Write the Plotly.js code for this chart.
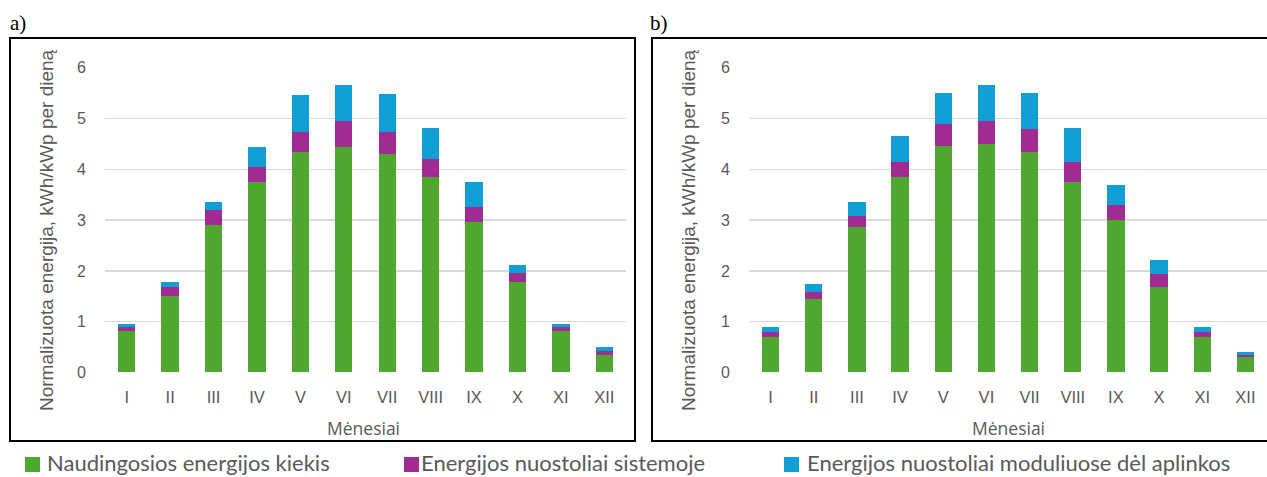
<!DOCTYPE html>
<html>
<head>
<meta charset="utf-8">
<script src="https://cdn.plot.ly/plotly-3.0.1.min.js"></script>
<style>html,body{margin:0;padding:0;background:#fff;}#chart{width:1267px;height:477px;}</style>
</head>
<body>
<div id="chart"></div>
<script>
// ---- data ----
const months = ["I","II","III","IV","V","VI","VII","VIII","IX","X","XI","XII"];
const seriesNames = ["Naudingosios energijos kiekis","Energijos nuostoliai sistemoje","Energijos nuostoliai moduliuose dėl aplinkos"];
// panel a)
const aUseful = [0.81,1.50,2.90,3.75,4.35,4.44,4.31,3.85,2.96,1.79,0.81,0.34];
const aSystem = [0.08,0.18,0.29,0.29,0.38,0.52,0.42,0.35,0.29,0.16,0.08,0.09];
const aModule = [0.07,0.11,0.17,0.40,0.73,0.69,0.76,0.61,0.50,0.16,0.07,0.07];
// panel b)
const bUseful = [0.70,1.45,2.86,3.85,4.45,4.50,4.35,3.75,3.00,1.69,0.70,0.31];
const bSystem = [0.09,0.13,0.23,0.29,0.44,0.45,0.45,0.40,0.29,0.25,0.09,0.04];
const bModule = [0.10,0.17,0.27,0.51,0.61,0.71,0.70,0.66,0.40,0.27,0.10,0.06];
const panelLabels = ["a)","b)"];
const yTitle = "Normalizuota energija, kWh/kWp per dieną";
const xTitle = "Mėnesiai";

// ---- styling ----
const W = 1267, H = 477;
const colors = ["#4ea72e","#a02b93","#0f9ed5"];
const grey = "#595959";
const px = x => x / W;
const py = y => 1 - y / H;

const aSeries = [aUseful, aSystem, aModule];
const bSeries = [bUseful, bSystem, bModule];
const traces = [];
aSeries.forEach((vals, i) => traces.push({
  type: "bar", x: months, y: vals, name: seriesNames[i], xaxis: "x", yaxis: "y",
  marker: {color: colors[i], line: {width: 0}}, showlegend: false, hoverinfo: "x+y+name"
}));
bSeries.forEach((vals, i) => traces.push({
  type: "bar", x: months, y: vals, name: seriesNames[i], xaxis: "x2", yaxis: "y2",
  marker: {color: colors[i], line: {width: 0}}, showlegend: false, hoverinfo: "x+y+name"
}));

const tickFontX = {family: "'Liberation Sans Narrow', 'Liberation Sans', Arial, sans-serif", size: 16.5, color: grey};
const tickFontY = {family: "'Liberation Sans', Arial, sans-serif", size: 16, color: grey};
function xAxis(d0, d1, anchor) {
  return {domain: [px(d0), px(d1)], anchor: anchor, type: "category", showgrid: false, zeroline: false,
    showline: false, ticks: "outside", ticklen: 10, tickcolor: "rgba(0,0,0,0)", tickfont: tickFontX, fixedrange: true};
}
function yAxis(anchor) {
  return {domain: [py(372.5), py(67.7)], anchor: anchor, range: [0, 6], dtick: 1, tick0: 0,
    showgrid: true, gridcolor: "#d9d9d9", gridwidth: 1.5, zeroline: false, showline: false,
    ticks: "outside", ticklen: 15, tickcolor: "rgba(0,0,0,0)", tickfont: tickFontY, fixedrange: true};
}

const annotations = [];
const shapes = [];
// panel labels
[[8, panelLabels[0]], [648, panelLabels[1]]].forEach(([x, t]) => annotations.push({
  xref: "paper", yref: "paper", x: px(x), y: py(23), xanchor: "left", yanchor: "middle",
  text: t, showarrow: false, font: {family: "'Liberation Serif', 'Times New Roman', serif", size: 21, color: "#000"}
}));
// axis titles
[[47, 363], [689, 1008]].forEach(([yx, xx]) => {
  annotations.push({xref: "paper", yref: "paper", x: px(yx), y: py(230), xanchor: "center", yanchor: "middle",
    text: yTitle, textangle: -90, showarrow: false, font: {family: "'Liberation Sans', Arial, sans-serif", size: 19, color: grey}});
  annotations.push({xref: "paper", yref: "paper", x: px(xx), y: py(428), xanchor: "center", yanchor: "middle",
    text: xTitle, showarrow: false, font: {family: "'Open Sans', 'Noto Sans', sans-serif", size: 17.5, color: grey}});
});
// frames
shapes.push({type: "rect", xref: "paper", yref: "paper", x0: px(10), x1: px(635), y0: py(441), y1: py(38),
  line: {color: "#000", width: 2}, fillcolor: "rgba(0,0,0,0)", layer: "below"});
shapes.push({type: "rect", xref: "paper", yref: "paper", x0: px(652), x1: px(1272), y0: py(441), y1: py(38),
  line: {color: "#000", width: 2}, fillcolor: "rgba(0,0,0,0)", layer: "below"});
// legend (below both panels)
const legendPos = [[25, 46], [404, 420], [784, 806]];
legendPos.forEach(([sx, tx], i) => {
  shapes.push({type: "rect", xref: "paper", yref: "paper", x0: px(sx), x1: px(sx + 15), y0: py(472), y1: py(457),
    line: {width: 0}, fillcolor: colors[i]});
  annotations.push({xref: "paper", yref: "paper", x: px(tx), y: py(476.5), xanchor: "left", yanchor: "bottom",
    text: seriesNames[i], showarrow: false, borderpad: 0, font: {family: "Lato, 'Open Sans', sans-serif", size: 22, color: grey}});
});

const layout = {
  width: W, height: H, margin: {l: 0, r: 0, t: 0, b: 0},
  paper_bgcolor: "#fff", plot_bgcolor: "rgba(0,0,0,0)",
  barmode: "stack", bargap: 0.6, showlegend: false,
  xaxis: xAxis(105, 626, "y"), yaxis: yAxis("x"),
  xaxis2: xAxis(749, 1267, "y2"), yaxis2: yAxis("x2"),
  annotations: annotations, shapes: shapes
};
Plotly.newPlot("chart", traces, layout, {displayModeBar: false, staticPlot: true});
</script>
</body>
</html>
